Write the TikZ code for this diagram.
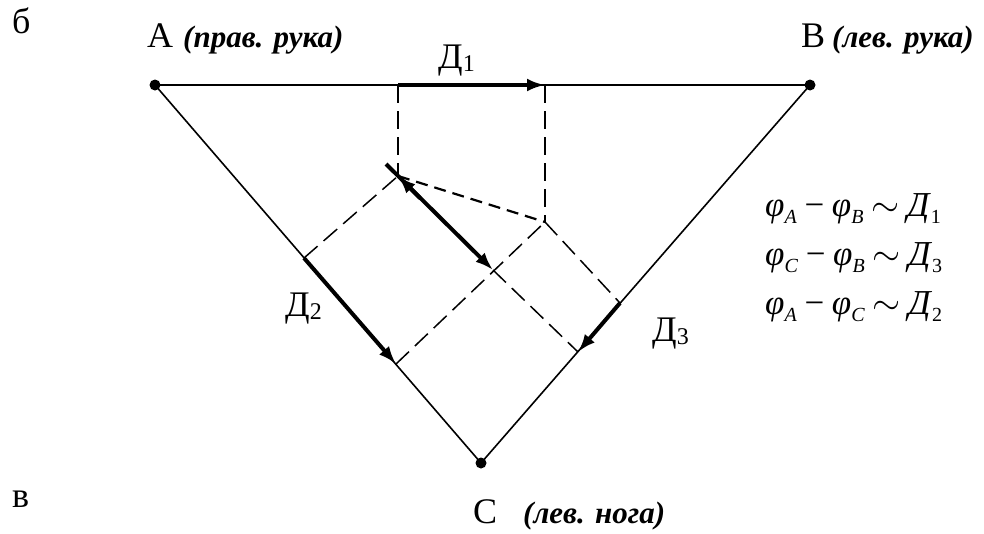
\documentclass[tikz,border=0pt]{standalone}
\usepackage{graphicx}
\usepackage{fontspec}
\setmainfont{Liberation Serif}
\usetikzlibrary{arrows.meta}
\newcommand\fsub[1]{\raisebox{-7pt}{\fontsize{20}{20}\selectfont #1}}
\newcommand\dsub[1]{\raisebox{-3pt}{\fontsize{24}{24}\selectfont #1}}
\newcommand\fop[1]{\hspace{0.22em}#1\hspace{0.22em}}
\newcommand\tld{\scalebox{1.45}{$\sim$}}
\begin{document}
\begin{tikzpicture}[x=1pt,y=-1pt,
  edge/.style={line width=1.6pt},
  proj/.style={line width=1.5pt, dash pattern=on 18pt off 8pt},
  projb/.style={line width=2.2pt, dash pattern=on 12pt off 7pt},
  vec/.style={line width=4pt, -{Latex[length=18pt,width=13pt]}},
  lbl/.style={anchor=base west, inner sep=0pt, font=\fontsize{31}{33}\selectfont},
  big/.style={anchor=base west, inner sep=0pt, font=\fontsize{36}{38}\selectfont},
  fml/.style={anchor=base west, inner sep=0pt, font=\fontsize{35}{38}\selectfont}]
\useasboundingbox (0,0) rectangle (984,533);
% vertices
\coordinate (A) at (155,85);
\coordinate (B) at (810,85);
\coordinate (C) at (481,463);
% projections
\coordinate (D1s) at (398,85);
\coordinate (D1e) at (545,85);
\coordinate (P) at (398,176);
\coordinate (Pb) at (420,198);
\coordinate (Hs) at (386,164);
\coordinate (Q) at (545,222);
\coordinate (H) at (493,270);
\coordinate (D2s) at (304,258);
\coordinate (D2e) at (396,364);
\coordinate (D3s) at (620,303);
\coordinate (D3e) at (578,352);
% triangle
\draw[edge] (A) -- (B) -- (C) -- cycle;
% dashed projection lines
\draw[proj] (D1s) -- (P);
\draw[proj] (D1e) -- (Q);
\draw[projb] (P) -- (Q);
\draw[proj] (D2s) -- (P);
\draw[proj] (D2e) -- (Q);
\draw[proj] (Q) -- (D3s);
\draw[proj] (H) -- (D3e);
% lead vectors
\draw[vec] (D1s) -- (D1e);
\draw[vec] (D2s) -- (D2e);
\draw[vec] (D3s) -- (D3e);
% heart vector
\draw[vec] (Hs) -- (H);
\draw[vec] (Pb) -- (P);
% dots
\fill (A) circle (5.5pt);
\fill (B) circle (5.5pt);
\fill (C) circle (5.5pt);
% labels
\node[big] (lb) at (12,33) {б};
\node[big] (la) at (147,47) {A};
\node[lbl] (lat) at (183,47) {\textbf{\textit{(прав. рука)}}};
\node[big] (lbb) at (801,47) {B};
\node[lbl] (lbt) at (832,47) {\textbf{\textit{(лев. рука)}}};
\node[big] (lc) at (473,523) {C};
\node[lbl] (lct) at (523,523) {\textbf{\textit{(лев. нога)}}};
\node[big] (lv) at (12,507) {в};
\node[big] (l1) at (438,68) {Д\dsub{1}};
\node[big] (l2) at (285,316) {Д\dsub{2}};
\node[big] (l3) at (652,341) {Д\dsub{3}};
% formulas
\node[fml] (f1) at (765,216) {\textit{φ}\fsub{\textit{A}}\fop{−}\textit{φ}\fsub{\textit{B}}\fop{\tld}\textit{Д}\fsub{1}};
\node[fml] (f2) at (765,265) {\textit{φ}\fsub{\textit{C}}\fop{−}\textit{φ}\fsub{\textit{B}}\fop{\tld}\textit{Д}\fsub{3}};
\node[fml] (f3) at (765,314) {\textit{φ}\fsub{\textit{A}}\fop{−}\textit{φ}\fsub{\textit{C}}\fop{\tld}\textit{Д}\fsub{2}};
\end{tikzpicture}
\end{document}
